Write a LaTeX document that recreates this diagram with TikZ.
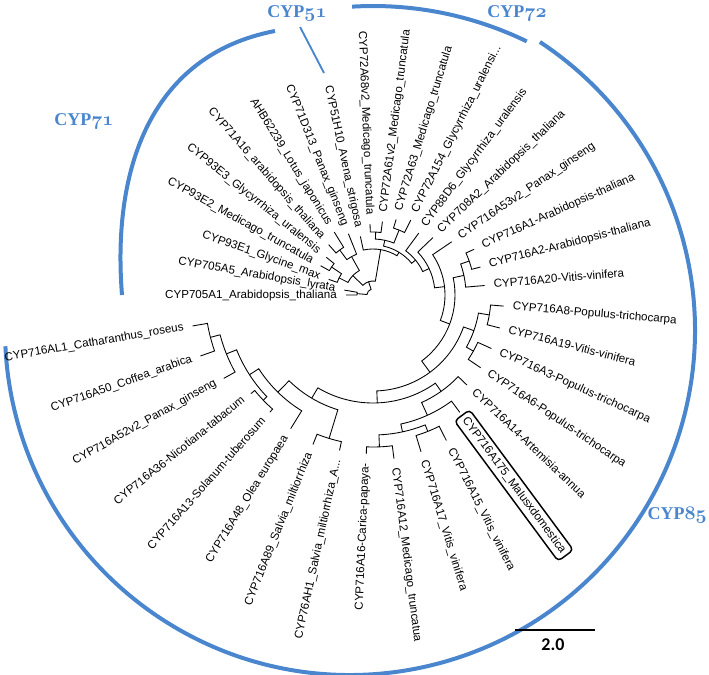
\documentclass[tikz,border=0pt]{standalone}
\usepackage{fontspec}
\newfontfamily\lbfont{Liberation Sans}
\newfontfamily\barfont{Carlito}
\newfontfamily\clanfont{Liberation Serif}
\newcommand\oldfig[1]{{\fontencoding{OML}\fontfamily{cmm}\fontseries{b}\fontshape{it}\selectfont #1}}

\begin{document}
\begin{tikzpicture}[x=0.75pt,y=0.75pt,yscale=-1,xscale=1,
    branch/.style={line width=0.65pt},
    leafR/.style={anchor=west,inner sep=0pt,text height=6.3pt,text depth=1.8pt,font=\lbfont\fontsize{8.7}{10}\selectfont},
    leafL/.style={leafR,anchor=east},
    boxed/.style={draw,rounded corners=3pt,line width=1.1pt,inner sep=3pt},
    clan/.style={color={rgb, 255:red, 74; green, 134; blue, 206},line width=3pt},
    clantext/.style={color={rgb, 255:red, 74; green, 134; blue, 206},inner sep=0pt,font=\clanfont\fontsize{13.5}{15}\selectfont\bfseries}]
        \useasboundingbox (0,0) rectangle (709,674);

        %Clan arcs
        \draw[clan] (350,330) ++(-56.6:345) arc[start angle=-56.6,end angle=177.3,radius=345];
        \draw[clan] (373,358) ++(-93.4:352) arc[start angle=-93.4,end angle=-64.1,radius=352];
        \draw[clan] (122,295) .. controls (112,170) and (150,55) .. (275,31);

        % Text Node
        \node[clantext] (lab51) at (297,13) {CYP\oldfig{51}};
        \node[clantext] (lab72) at (517,13) {CYP\oldfig{72}};
        \node[clantext] (lab71) at (84,121) {CYP\oldfig{71}};
        \node[clantext,anchor=east] (lab85) at (707,515) {CYP\oldfig{85}};
        \coordinate (tip51) at (324,73);
        \draw[clan,line width=1.4pt,shorten <=5] (lab51.south) -- (tip51);

        %Scale bar
        \coordinate (sb1) at (515,630);
        \coordinate (sb2) at (595,630);
        \draw[line width=1.1pt] (sb1) -- (sb2);
        \node[font=\barfont\bfseries\fontsize{13.5}{15}\selectfont] (sblab) at (553,645) {2.0};

        %Tree
        \begin{scope}[shift={(373,295)},yscale=-1]
        % leaves
        \coordinate (l1) at (180:27);
        \coordinate (l2) at (170.27:29);
        \coordinate (l3) at (160.54:47);
        \coordinate (l4) at (150.81:60);
        \coordinate (l5) at (141.08:60);
        \coordinate (l6) at (131.35:67);
        \coordinate (l7) at (121.62:74);
        \coordinate (l8) at (111.89:66);
        \coordinate (l9) at (102.16:60);
        \coordinate (l10) at (92.43:71);
        \coordinate (l11) at (82.70:74);
        \coordinate (l12) at (72.97:79);
        \coordinate (l13) at (63.24:84);
        \coordinate (l14) at (53.51:77);
        \coordinate (l15) at (43.78:83);
        \coordinate (l16) at (34.05:95);
        \coordinate (l17) at (24.32:111);
        \coordinate (l18) at (14.59:111);
        \coordinate (l19) at (4.86:112);
        \coordinate (l20) at (-4.86:131);
        \coordinate (l21) at (-14.59:131);
        \coordinate (l22) at (-24.32:130);
        \coordinate (l23) at (-34.05:130);
        \coordinate (l24) at (-43.78:130);
        \coordinate (l25) at (-53.51:146);
        \coordinate (l26) at (-63.24:163);
        \coordinate (l27) at (-72.97:164);
        \coordinate (l28) at (-82.70:165);
        \coordinate (l29) at (-92.43:159);
        \coordinate (l30) at (-102.16:159);
        \coordinate (l31) at (-111.89:161);
        \coordinate (l32) at (-121.62:157);
        \coordinate (l33) at (-131.35:156);
        \coordinate (l34) at (-141.08:157);
        \coordinate (l35) at (-150.81:171);
        \coordinate (l36) at (-160.54:183);
        \coordinate (l37) at (-170.27:183);
        % inner nodes
        \coordinate (nA) at (175.14:16);
        \coordinate (nC45) at (145.95:50);
        \coordinate (nC3) at (153.24:38);
        \coordinate (nC67) at (126.49:56);
        \coordinate (nC68) at (119.19:44);
        \coordinate (nC71) at (136.22:28);
        \coordinate (nC72a) at (87.57:63);
        \coordinate (nC72b) at (68.11:70);
        \coordinate (nC72) at (77.84:56);
        \coordinate (nE1a) at (19.46:102);
        \coordinate (nE1) at (12.16:93);
        \coordinate (nE2a) at (-9.73:118);
        \coordinate (nE2b) at (-29.19:115);
        \coordinate (nE2) at (-19.46:107);
        \coordinate (nQ2627) at (-68.11:147);
        \coordinate (nQ2829) at (-87.57:152);
        \coordinate (nN2629) at (-77.84:140);
        \coordinate (nN25) at (-65.67:132);
        \coordinate (nN24) at (-54.73:118);
        \coordinate (nQ30) at (-107.03:150);
        \coordinate (nQ3334) at (-136.22:152);
        \coordinate (nQ3637) at (-165.41:168);
        \coordinate (nQ35) at (-158.11:158);
        \coordinate (nD7) at (-147.16:147);
        \coordinate (nD6) at (-134.39:136);
        \coordinate (nD5) at (-120.71:120);
        \coordinate (nD4) at (-87.72:108);
        \coordinate (nD3) at (-53.59:96);
        \coordinate (nD2) at (-20.72:82);
        \coordinate (nD1) at (6.67:72);
        \coordinate (nC85b) at (25.23:62);
        \coordinate (nC85) at (39.37:55);
        \coordinate (nM2) at (58.60:50);
        \coordinate (nM) at (80.38:46);
        \coordinate (nB) at (108.30:14);

        % branches
        \draw[branch] (l1) -- (180:16) arc[start angle=180,end angle=170.27,radius=16] -- (l2);
        \draw[branch] (l4) -- (150.81:50) arc[start angle=150.81,end angle=141.08,radius=50] -- (l5);
        \draw[branch] (l3) -- (160.54:38) arc[start angle=160.54,end angle=145.95,radius=38] -- (nC45);
        \draw[branch] (l6) -- (131.35:56) arc[start angle=131.35,end angle=121.62,radius=56] -- (l7);
        \draw[branch] (nC67) -- (126.49:44) arc[start angle=126.49,end angle=111.89,radius=44] -- (l8);
        \draw[branch] (nC3) -- (153.24:28) arc[start angle=153.24,end angle=119.19,radius=28] -- (nC68);
        \draw[branch] (l10) -- (92.43:63) arc[start angle=92.43,end angle=82.70,radius=63] -- (l11);
        \draw[branch] (l12) -- (72.97:70) arc[start angle=72.97,end angle=63.24,radius=70] -- (l13);
        \draw[branch] (nC72a) -- (87.57:56) arc[start angle=87.57,end angle=68.11,radius=56] -- (nC72b);
        \draw[branch] (l17) -- (24.32:102) arc[start angle=24.32,end angle=14.59,radius=102] -- (l18);
        \draw[branch] (nE1a) -- (19.46:93) arc[start angle=19.46,end angle=4.86,radius=93] -- (l19);
        \draw[branch] (l20) -- (-4.86:118) arc[start angle=-4.86,end angle=-14.59,radius=118] -- (l21);
        \draw[branch] (l22) -- (-24.32:115) arc[start angle=-24.32,end angle=-34.05,radius=115] -- (l23);
        \draw[branch] (nE2a) -- (-9.73:107) arc[start angle=-9.73,end angle=-29.19,radius=107] -- (nE2b);
        \draw[branch] (l26) -- (-63.24:147) arc[start angle=-63.24,end angle=-72.97,radius=147] -- (l27);
        \draw[branch] (l28) -- (-82.70:152) arc[start angle=-82.70,end angle=-92.43,radius=152] -- (l29);
        \draw[branch] (nQ2627) -- (-68.11:140) arc[start angle=-68.11,end angle=-87.57,radius=140] -- (nQ2829);
        \draw[branch] (l25) -- (-53.51:132) arc[start angle=-53.51,end angle=-77.84,radius=132] -- (nN2629);
        \draw[branch] (l24) -- (-43.78:118) arc[start angle=-43.78,end angle=-65.67,radius=118] -- (nN25);
        \draw[branch] (l30) -- (-102.16:150) arc[start angle=-102.16,end angle=-111.89,radius=150] -- (l31);
        \draw[branch] (l33) -- (-131.35:152) arc[start angle=-131.35,end angle=-141.08,radius=152] -- (l34);
        \draw[branch] (l36) -- (-160.54:168) arc[start angle=-160.54,end angle=-170.27,radius=168] -- (l37);
        \draw[branch] (l35) -- (-150.81:158) arc[start angle=-150.81,end angle=-165.41,radius=158] -- (nQ3637);
        \draw[branch] (nQ3334) -- (-136.22:147) arc[start angle=-136.22,end angle=-158.11,radius=147] -- (nQ35);
        \draw[branch] (l32) -- (-121.62:136) arc[start angle=-121.62,end angle=-147.16,radius=136] -- (nD7);
        \draw[branch] (nQ30) -- (-107.03:120) arc[start angle=-107.03,end angle=-134.39,radius=120] -- (nD6);
        \draw[branch] (nN24) -- (-54.73:108) arc[start angle=-54.73,end angle=-120.71,radius=108] -- (nD5);
        \draw[branch] (nE2) -- (-19.46:96) arc[start angle=-19.46,end angle=-87.72,radius=96] -- (nD4);
        \draw[branch] (nE1) -- (12.16:82) arc[start angle=12.16,end angle=-53.59,radius=82] -- (nD3);
        \draw[branch] (l16) -- (34.05:72) arc[start angle=34.05,end angle=-20.72,radius=72] -- (nD2);
        \draw[branch] (l15) -- (43.78:62) arc[start angle=43.78,end angle=6.67,radius=62] -- (nD1);
        \draw[branch] (l14) -- (53.51:55) arc[start angle=53.51,end angle=25.23,radius=55] -- (nC85b);
        \draw[branch] (nC72) -- (77.84:50) arc[start angle=77.84,end angle=39.37,radius=50] -- (nC85);
        \draw[branch] (l9) -- (102.16:46) arc[start angle=102.16,end angle=58.60,radius=46] -- (nM2);
        \draw[branch] (nC71) -- (136.22:14) arc[start angle=136.22,end angle=80.38,radius=14] -- (nM);
        \draw[branch] (nA) -- (175.14:6) arc[start angle=175.14,end angle=108.30,radius=6] -- (nB);

        % Text Node
        \node[leafL,rotate=0] (t1) at (180:36) {CYP705A1\_Arabidopsis\_thaliana};
        \node[leafL,rotate=-9.73] (t2) at (170.27:38) {CYP705A5\_Arabidopsis\_lyrata};
        \node[leafL,rotate=-19.46] (t3) at (160.54:56) {CYP93E1\_Glycine\_max};
        \node[leafL,rotate=-29.19] (t4) at (150.81:69) {CYP93E2\_Medicago\_truncatula};
        \node[leafL,rotate=-38.92] (t5) at (141.08:69) {CYP93E3\_Glycyrrhiza\_uralensis};
        \node[leafL,rotate=-48.65] (t6) at (131.35:76) {CYP71A16\_arabidopsis\_thaliana};
        \node[leafL,rotate=-58.38] (t7) at (121.62:83) {AHB62239\_Lotus\_japonicus};
        \node[leafL,rotate=-68.11] (t8) at (111.89:75) {CYP71D313\_Panax\_ginseng};
        \node[leafL,rotate=-77.84] (t9) at (102.16:69) {CYP51H10\_Avena\_strigosa};
        \node[leafL,rotate=-87.57] (t10) at (92.43:80) {CYP72A68v2\_Medicago\_truncatula};
        \node[leafR,rotate=82.70] (t11) at (82.70:83) {CYP72A61v2\_Medicago\_truncatula};
        \node[leafR,rotate=72.97] (t12) at (72.97:88) {CYP72A63\_Medicago\_truncatula};
        \node[leafR,rotate=63.24] (t13) at (63.24:93) {CYP72A154\_Glycyrrhiza\_uralensi...};
        \node[leafR,rotate=53.51] (t14) at (53.51:86) {CYP88D6\_Glycyrrhiza\_uralensis};
        \node[leafR,rotate=43.78] (t15) at (43.78:92) {CYP708A2\_Arabidopsis\_thaliana};
        \node[leafR,rotate=34.05] (t16) at (34.05:104) {CYP716A53v2\_Panax\_ginseng};
        \node[leafR,rotate=24.32] (t17) at (24.32:120) {CYP716A1-Arabidopsis-thaliana};
        \node[leafR,rotate=14.59] (t18) at (14.59:120) {CYP716A2-Arabidopsis-thaliana};
        \node[leafR,rotate=4.86] (t19) at (4.86:121) {CYP716A20-Vitis-vinifera};
        \node[leafR,rotate=-4.86] (t20) at (-4.86:140) {CYP716A8-Populus-trichocarpa};
        \node[leafR,rotate=-14.59] (t21) at (-14.59:140) {CYP716A19-Vitis-vinifera};
        \node[leafR,rotate=-24.32] (t22) at (-24.32:139) {CYP716A3-Populus-trichocarpa};
        \node[leafR,rotate=-34.05] (t23) at (-34.05:139) {CYP716A6-Populus-trichocarpa};
        \node[leafR,rotate=-43.78] (t24) at (-43.78:139) {CYP716A14-Artemisia-annua};
        \node[leafR,boxed,rotate=-53.51] (t25) at (-53.51:149) {CYP716A175\_Malusxdomestica};
        \node[leafR,rotate=-63.24] (t26) at (-63.24:172) {CYP716A15\_Vitis\_vinifera};
        \node[leafR,rotate=-72.97] (t27) at (-72.97:173) {CYP716A17\_Vitis\_vinifera};
        \node[leafR,rotate=-82.70] (t28) at (-82.70:174) {CYP716A12\_Medicago\_truncatua};
        \node[leafL,rotate=87.57] (t29) at (-92.43:168) {CYP716A16-Carica-papaya-};
        \node[leafL,rotate=77.84] (t30) at (-102.16:168) {CYP76AH1\_Salvia\_miltiorrhiza\_A...};
        \node[leafL,rotate=68.11] (t31) at (-111.89:170) {CYP716A89\_Salvia\_miltiorrhiza};
        \node[leafL,rotate=58.38] (t32) at (-121.62:166) {CYP716A48\_Olea europaea};
        \node[leafL,rotate=48.65] (t33) at (-131.35:165) {CYP716A13-Solanum-tuberosum};
        \node[leafL,rotate=38.92] (t34) at (-141.08:166) {CYP716A36-Nicotiana-tabacum};
        \node[leafL,rotate=29.19] (t35) at (-150.81:180) {CYP716A52v2\_Panax\_ginseng};
        \node[leafL,rotate=19.46] (t36) at (-160.54:192) {CYP716A50\_Coffea\_arabica};
        \node[leafL,rotate=9.73] (t37) at (-170.27:192) {CYP716AL1\_Catharanthus\_roseus};
        \end{scope}

\end{tikzpicture}
\end{document}
